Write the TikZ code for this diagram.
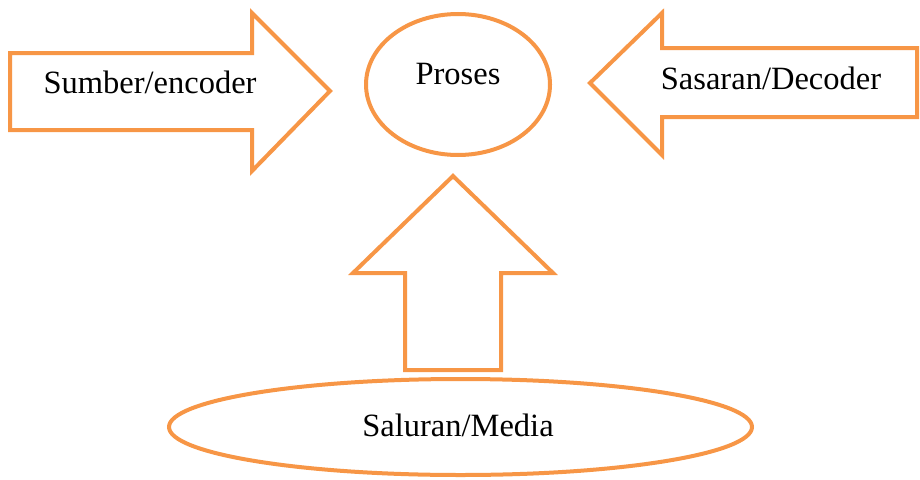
\documentclass[tikz,border=0pt]{standalone}
\usepackage{fontspec}
\setmainfont{Liberation Serif}
\definecolor{accent}{HTML}{F79646}
\begin{document}
\begin{tikzpicture}[x=1pt,y=-1pt,
  shapeline/.style={draw=accent,line width=4pt,fill=white,line join=miter},
  lbl/.style={anchor=base,inner sep=0pt,font=\fontsize{32.5}{39}\selectfont}]
\useasboundingbox (0,0) rectangle (920,479);
% right-pointing arrow (left)
\draw[shapeline] (10,53) -- (252,53) -- (252,13) -- (330,91) -- (252,171) -- (252,130) -- (10,130) -- cycle;
% left-pointing arrow (right)
\draw[shapeline] (917,48) -- (662,48) -- (662,13) -- (590,83) -- (662,155) -- (662,117) -- (917,117) -- cycle;
% up arrow
\draw[shapeline] (405,370) -- (405,273) -- (353,273) -- (453,176) -- (553,273) -- (501,273) -- (501,370) -- cycle;
% ellipses
\draw[shapeline] (458,84.5) ellipse [x radius=92, y radius=70.5];
\draw[shapeline] (460.5,427) ellipse [x radius=291.5, y radius=48];
% labels
\node[lbl] (src) at (150,93) {Sumber/encoder};
\node[lbl] (proc) at (458,84) {Proses};
\node[lbl] (dst) at (771,89) {Sasaran/Decoder};
\node[lbl] (med) at (458,436) {Saluran/Media};
\end{tikzpicture}
\end{document}
